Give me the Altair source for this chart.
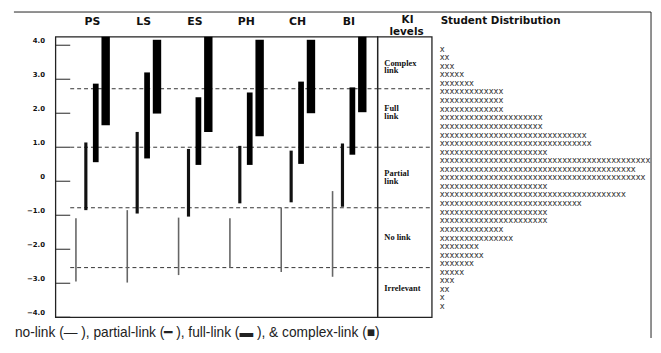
import altair as alt
import pandas as pd

# ---------------- data ----------------
subjects = ["PS", "LS", "ES", "PH", "CH", "BI"]
levels = ["no-link", "partial-link", "full-link", "complex-link"]

no_low = [-2.95, -2.98, -2.76, -2.55, -2.67, -2.81]
no_high = [-1.09, -0.85, -1.07, -1.09, -0.78, -0.29]
partial_low = [-0.85, -0.95, -1.04, -0.65, -0.62, -0.75]
partial_high = [1.14, 1.45, 0.95, 1.04, 0.90, 1.11]
full_low = [0.56, 0.67, 0.48, 0.48, 0.51, 0.78]
full_high = [2.87, 3.20, 2.47, 2.61, 2.93, 2.76]
complex_low = [1.65, 1.99, 1.45, 1.32, 2.00, 2.03]
complex_high = [4.25, 4.16, 4.25, 4.16, 4.16, 4.25]

tick_values = [4, 3, 2, 1, 0, -1, -2, -3, -4]
ki_bounds = [2.72, 1.0, -0.78, -2.54]
ki_header = ["KI", "levels"]
ki_labels = ["Complex\nlink", "Full\nlink", "Partial\nlink", "No link", "Irrelevant"]
ki_label_y = [3.49, 2.16, 0.24, -1.65, -3.13]

dist_y = [3.90, 3.65, 3.39, 3.14, 2.89, 2.64, 2.38, 2.13, 1.88, 1.63, 1.37,
          1.12, 0.87, 0.62, 0.36, 0.11, -0.14, -0.39, -0.65, -0.90, -1.15,
          -1.40, -1.66, -1.91, -2.16, -2.41, -2.67, -2.92, -3.17, -3.42, -3.68]
dist_counts = [1, 2, 3, 5, 7, 13, 13, 13, 21, 21, 30, 31, 22, 43, 40, 42, 22,
               38, 29, 22, 22, 13, 15, 8, 9, 7, 5, 3, 2, 1, 1]

legend_text = "no-link (\u2014 ), partial-link (\u2501 ), full-link (\u25ac ), & complex-link (\u25a0)"

# ---------------- tables ----------------
lows = [no_low, partial_low, full_low, complex_low]
highs = [no_high, partial_high, full_high, complex_high]
rows = []
for li, lev in enumerate(levels):
    for si, s in enumerate(subjects):
        rows.append({"subject": s, "level": lev, "low": lows[li][si], "high": highs[li][si]})
bars_df = pd.DataFrame(rows)
ticks_df = pd.DataFrame({"v": tick_values})
bounds_df = pd.DataFrame({"v": ki_bounds})
ki_df = pd.DataFrame({"label": ki_labels, "v": ki_label_y})
dist_df = pd.DataFrame({"v": dist_y, "n": dist_counts})
dist_df["txt"] = dist_df["n"].apply(lambda n: "x" * n)

W_MAIN, W_KI, W_DIST, H = 326, 55, 220, 284
yscale = alt.Scale(domain=[-4, 4.25], nice=False, zero=False)
yaxis = alt.Axis(values=tick_values,
                 labelExpr="datum.value == 0 ? '0' : format(datum.value, '.1f')",
                 labelFontSize=7, labelFontWeight="bold", labelFont="DejaVu Sans",
                 labelColor="#111", ticks=False, domain=False, grid=False,
                 labelPadding=11, labelOffset=-5, title=None)

# ---------------- main panel ----------------
ticks = alt.Chart(ticks_df).mark_rule(color="#222", strokeWidth=1).encode(
    y=alt.Y("v:Q", scale=yscale, axis=yaxis),
    x=alt.value(0), x2=alt.value(15))

dashed = alt.Chart(bounds_df).mark_rule(color="#333", strokeWidth=1, strokeDash=[4, 3]).encode(
    y=alt.Y("v:Q", scale=yscale, axis=yaxis),
    x=alt.value(15), x2=alt.value(W_MAIN))

xenc = alt.X("subject:N", sort=subjects,
             scale=alt.Scale(domain=subjects, paddingInner=0, paddingOuter=0.137, align=0.8),
             axis=alt.Axis(orient="top", labelAngle=0, ticks=False, domain=False,
                           labelFontSize=11, labelFontWeight="bold", labelFont="DejaVu Sans",
                           labelColor="#111", labelPadding=10, title=None))
xoff = alt.XOffset("level:N",
                   scale=alt.Scale(domain=levels, paddingInner=0, paddingOuter=0.59, align=0.37))

bar_widths = [1.6, 3.2, 5.8, 8.5]
bar_colors = ["#666666", "#111111", "#000000", "#000000"]
bar_layers = []
for lev, w, c in zip(levels, bar_widths, bar_colors):
    bar_layers.append(
        alt.Chart(bars_df).transform_filter(alt.datum.level == lev).mark_rule(
            strokeWidth=w, color=c, strokeCap="butt").encode(
            x=xenc, xOffset=xoff,
            y=alt.Y("low:Q", scale=yscale, axis=yaxis),
            y2="high:Q"))

legend = alt.Chart(pd.DataFrame({"t": [legend_text]})).mark_text(
    align="left", baseline="middle", font="Liberation Sans", fontSize=13.9, color="#222").encode(
    text="t:N", x=alt.value(-41), y=alt.value(H + 16))

frame_top = alt.Chart(pd.DataFrame({"a": [0]})).mark_rule(color="#222", strokeWidth=1).encode(
    x=alt.value(-42), x2=alt.value(603), y=alt.value(-25))
frame_right = alt.Chart(pd.DataFrame({"a": [0]})).mark_rule(color="#222", strokeWidth=1).encode(
    x=alt.value(603), y=alt.value(-25), y2=alt.value(H + 21))

main = alt.layer(ticks, dashed, *bar_layers, legend, frame_top, frame_right).properties(
    width=W_MAIN, height=H, view=alt.ViewBackground(stroke="#222", strokeWidth=1.3))

# ---------------- KI levels panel ----------------
ki_dash = alt.Chart(bounds_df).mark_rule(color="#333", strokeWidth=1, strokeDash=[4, 3]).encode(
    y=alt.Y("v:Q", scale=yscale, axis=None),
    x=alt.value(0), x2=alt.value(W_KI))
ki_text = alt.Chart(ki_df).mark_text(
    align="left", baseline="middle", lineBreak="\n", font="Liberation Serif",
    fontSize=8.5, fontWeight="bold", lineHeight=8, color="#111").encode(
    y=alt.Y("v:Q", scale=yscale, axis=None), x=alt.value(7), text="label:N")
ki_head1 = alt.Chart(pd.DataFrame({"t": [ki_header[0]]})).mark_text(
    align="center", baseline="middle", font="DejaVu Sans",
    fontSize=10.5, fontWeight="bold", color="#111").encode(
    text="t:N", x=alt.value(W_KI / 2 + 3), y=alt.value(-17))
ki_head2 = alt.Chart(pd.DataFrame({"t": [ki_header[1]]})).mark_text(
    align="center", baseline="middle", font="DejaVu Sans",
    fontSize=10.5, fontWeight="bold", color="#111").encode(
    text="t:N", x=alt.value(W_KI / 2 + 2), y=alt.value(-5))
ki = alt.layer(ki_dash, ki_text, ki_head1, ki_head2).properties(
    width=W_KI, height=H, view=alt.ViewBackground(stroke="#222", strokeWidth=1.3))

# ---------------- student distribution ----------------
dist = alt.Chart(dist_df).mark_text(
    align="left", baseline="middle", font="DejaVu Sans", fontSize=8.4, color="#333").encode(
    y=alt.Y("v:Q", scale=yscale, axis=None), x=alt.value(8), text="txt:N").properties(
    width=W_DIST, height=H, view=alt.ViewBackground(stroke="transparent"),
    title=alt.TitleParams(text="Student Distribution", fontSize=10.5, fontWeight="bold",
                          font="DejaVu Sans", anchor="start", dx=9, offset=10, color="#111"))

chart = alt.hconcat(main, ki, dist, spacing=0, bounds="flush").properties(
    padding={"left": 4, "top": 0, "right": 0, "bottom": 0}
).configure(background="white")

chart.save("out.html", embed_options={"renderer": "svg", "actions": False})
